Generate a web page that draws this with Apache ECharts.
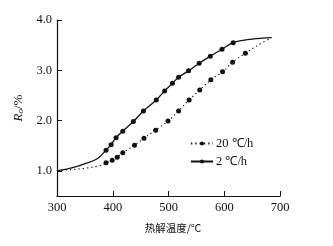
<!DOCTYPE html>
<html>
<head>
<meta charset="utf-8">
<script src="https://cdn.jsdelivr.net/npm/echarts@6/dist/echarts.min.js"></script>
<style>
html,body{margin:0;padding:0;background:#fff;}
#c{width:333px;height:246px;}
</style>
</head>
<body>
<div id="c"></div>
<script>
// Data
var seriesNames = ['20 ℃/h', '2 ℃/h'];
var xTicks = [300, 400, 500, 600, 700];
var yTicks = [1.0, 2.0, 3.0, 4.0];

// 20 ℃/h (dotted curve)
var rate20Temp = [300, 320, 350, 375, 388, 399, 408, 418, 439, 456, 477, 499, 518, 537, 556, 576, 597, 615, 638, 662, 685];
var rate20Ro   = [1.00, 1.02, 1.05, 1.10, 1.16, 1.21, 1.27, 1.36, 1.51, 1.65, 1.81, 1.99, 2.19, 2.41, 2.61, 2.81, 2.97, 3.16, 3.34, 3.51, 3.65];
var rate20Measured = [0, 0, 0, 0, 1, 1, 1, 1, 1, 1, 1, 1, 1, 1, 1, 1, 1, 1, 1, 0, 0];

// 2 ℃/h (solid curve)
var rate2Temp = [300, 330, 352, 372, 388, 397, 406, 418, 437, 455, 478, 493, 507, 518, 536, 555, 575, 596, 616, 650, 685];
var rate2Ro   = [1.00, 1.07, 1.15, 1.24, 1.41, 1.52, 1.66, 1.79, 1.98, 2.19, 2.41, 2.59, 2.74, 2.86, 2.99, 3.14, 3.28, 3.42, 3.55, 3.62, 3.65];
var rate2Measured = [0, 0, 0, 0, 1, 1, 1, 1, 1, 1, 1, 1, 1, 1, 1, 1, 1, 1, 1, 0, 0];

function build(t, r, m) {
  return t.map(function (x, i) {
    var item = { value: [x, r[i]] };
    if (!m[i]) item.symbol = 'none';
    return item;
  });
}

var serif = '"Liberation Serif", "Times New Roman", serif';
var chart = echarts.init(document.getElementById('c'), null, { renderer: 'canvas' });
chart.setOption({
  animation: false,
  backgroundColor: '#fff',
  grid: { left: 57, right: 53, top: 20, bottom: 50, containLabel: false },
  legend: {
    orient: 'vertical',
    left: 185,
    top: 132,
    itemWidth: 22,
    itemHeight: 5,
    itemGap: 5,
    data: seriesNames,
    textStyle: { fontFamily: serif, fontSize: 12.5, color: '#111', padding: [0, 0, 0, -2] }
  },
  xAxis: {
    type: 'value',
    min: xTicks[0],
    max: xTicks[xTicks.length - 1],
    interval: 100,
    name: '热解温度/℃',
    nameLocation: 'middle',
    nameGap: 27,
    nameTextStyle: { fontFamily: '"Noto Sans CJK SC", sans-serif', fontSize: 10.5, color: '#111', padding: [0, 0, 0, 9] },
    axisLine: { show: true, lineStyle: { color: '#111', width: 1.2 } },
    axisTick: { show: true, inside: true, length: 5, lineStyle: { color: '#111' } },
    axisLabel: { fontFamily: serif, fontSize: 12.5, color: '#111', margin: 5 },
    splitLine: { show: false }
  },
  yAxis: {
    type: 'value',
    min: 0.5,
    max: 4.0,
    name: '{i|R}{s|o}{n|/%}',
    nameLocation: 'middle',
    nameRotate: 90,
    nameGap: 27,
    nameTextStyle: {
      color: '#111',
      rich: {
        i: { fontFamily: serif, fontStyle: 'italic', fontSize: 13, color: '#111' },
        s: { fontFamily: serif, fontStyle: 'italic', fontSize: 9, color: '#111', padding: [5, 0, 0, 0] },
        n: { fontFamily: serif, fontSize: 13, color: '#111' }
      }
    },
    axisLine: { show: true, lineStyle: { color: '#111', width: 1.2 } },
    axisTick: { show: true, inside: true, length: 5, customValues: yTicks, lineStyle: { color: '#111' } },
    axisLabel: {
      fontFamily: serif, fontSize: 12.5, color: '#111', margin: 5,
      customValues: yTicks,
      formatter: function (v) { return v.toFixed(1); }
    },
    splitLine: { show: false }
  },
  series: [
    {
      name: seriesNames[0],
      type: 'line',
      smooth: 0.35,
      symbol: 'circle',
      symbolSize: 5,
      showAllSymbol: true,
      itemStyle: { color: '#111' },
      lineStyle: { color: '#111', width: 1.1, type: [1.3, 3] },
      data: build(rate20Temp, rate20Ro, rate20Measured)
    },
    {
      name: seriesNames[1],
      type: 'line',
      smooth: 0.35,
      symbol: 'circle',
      symbolSize: 5,
      showAllSymbol: true,
      itemStyle: { color: '#111' },
      lineStyle: { color: '#111', width: 1.3 },
      data: build(rate2Temp, rate2Ro, rate2Measured)
    }
  ]
});
</script>
</body>
</html>
